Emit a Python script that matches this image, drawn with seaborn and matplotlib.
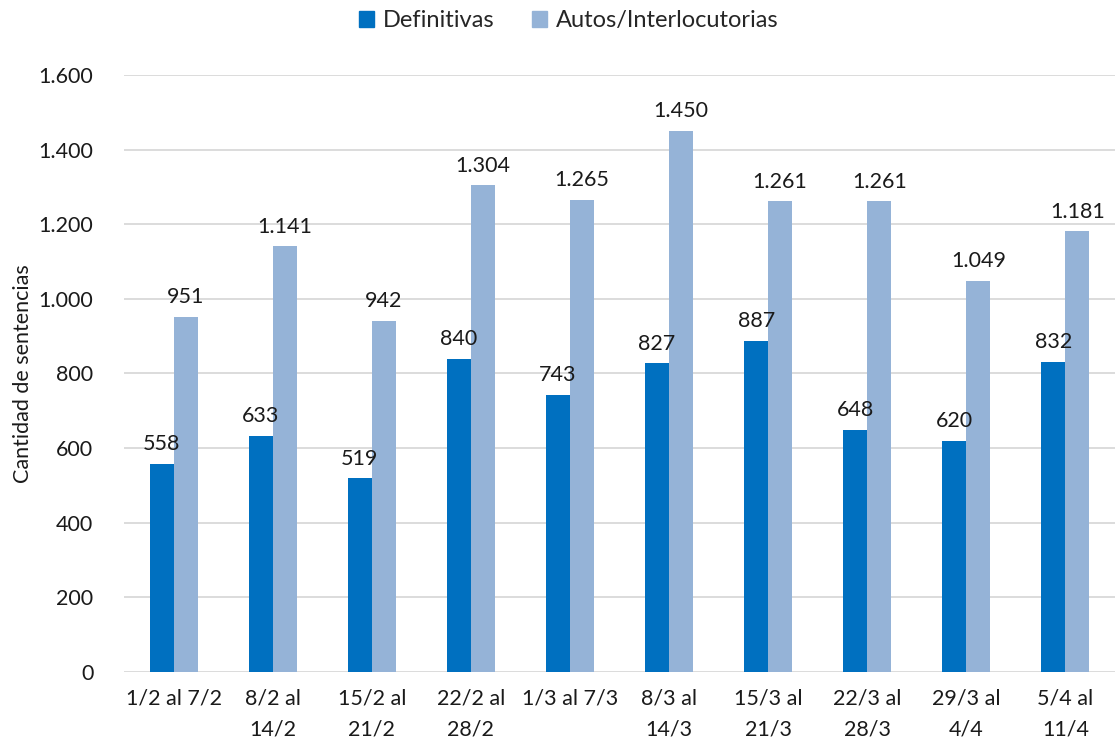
import matplotlib
matplotlib.use("Agg")
import matplotlib.pyplot as plt
import seaborn as sns
import pandas as pd

categories = ["1/2 al 7/2", "8/2 al\n14/2", "15/2 al\n21/2", "22/2 al\n28/2", "1/3 al 7/3",
              "8/3 al\n14/3", "15/3 al\n21/3", "22/3 al\n28/3", "29/3 al\n4/4", "5/4 al\n11/4"]
definitivas = [558, 633, 519, 840, 743, 827, 887, 648, 620, 832]
autos = [951, 1141, 942, 1304, 1265, 1450, 1261, 1261, 1049, 1181]
series_names = ["Definitivas", "Autos/Interlocutorias"]
colors = ["#0070C0", "#95B3D7"]

df = pd.DataFrame({
    "cat": categories * 2,
    "val": definitivas + autos,
    "serie": [series_names[0]] * len(categories) + [series_names[1]] * len(categories),
})

sns.set_theme(style="white")
plt.rcParams["font.family"] = ["Lato", "DejaVu Sans"]

fig = plt.figure(figsize=(11.15, 7.44), dpi=100)
ax = fig.add_axes([0.1112, 0.0968, 0.8888, 0.8024])

sns.barplot(data=df, x="cat", y="val", hue="serie", palette=colors, width=0.485,
            saturation=1, ax=ax, legend=True, linewidth=0)

def fmt(v):
    return f"{int(round(v)):,}".replace(",", ".")

for cont in ax.containers:
    ax.bar_label(cont, labels=[fmt(b.get_height()) for b in cont], padding=7,
                 fontsize=15.5, color="#1a1a1a")

ax.set_ylim(0, 1600)
ax.set_xlim(-0.5, len(categories) - 0.5)
ax.set_yticks(range(0, 1601, 200))
ax.set_yticklabels([fmt(v) for v in range(0, 1601, 200)])
ax.yaxis.grid(True, color="#D9D9D9", linewidth=1.3)
ax.set_axisbelow(True)
for s in ax.spines.values():
    s.set_visible(False)
ax.tick_params(axis="both", labelsize=15.5, colors="#1a1a1a", length=0)
ax.tick_params(axis="y", pad=22)
ax.tick_params(axis="x", pad=12)
for lab in ax.get_xticklabels():
    lab.set_linespacing(1.65)
ax.set_xlabel("")
ax.set_ylabel("Cantidad de sentencias", fontsize=15.5, color="#1a1a1a")
ax.yaxis.set_label_coords(-0.092, 0.5)

leg = ax.get_legend()
leg.remove()
handles = [plt.Rectangle((0, 0), 1, 1, color=c) for c in colors]
fig.legend(handles, series_names, loc="upper center", bbox_to_anchor=(0.51, 1.015), ncol=2,
           frameon=False, fontsize=17, handlelength=0.65, handleheight=0.65,
           columnspacing=1.6, handletextpad=0.35)

fig.savefig("out.png", dpi=100, facecolor="white")
